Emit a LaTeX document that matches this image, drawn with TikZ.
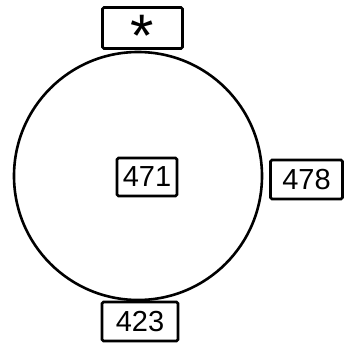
\documentclass[tikz,border=0pt]{standalone}
\usepackage{fontspec}
\setmainfont{Liberation Sans}
\begin{document}
\begin{tikzpicture}[x=1pt,y=-1pt,
  label box/.style={draw, line width=2.6pt, rounded corners=1.5pt, inner sep=0pt,
    font=\fontsize{29}{29}\selectfont},
  ring/.style={draw, line width=2.6pt}]
\useasboundingbox (0,0) rectangle (346,343);
% the large circle
\draw[ring] (138,176) circle[radius=124pt];
% labelled boxes
\node[label box, minimum width=80pt, minimum height=41pt] (top) at (142.5,28)
  {\fontsize{60}{60}\selectfont\smash{\raisebox{-28pt}{*}}};
\node[label box, minimum width=60pt, minimum height=38pt] (mid) at (147,177) {471};
\node[label box, minimum width=72pt, minimum height=39pt] (right) at (306.5,179.5) {478};
\node[label box, minimum width=76pt, minimum height=39pt] (bottom) at (140,321.5) {423};
\end{tikzpicture}
\end{document}
